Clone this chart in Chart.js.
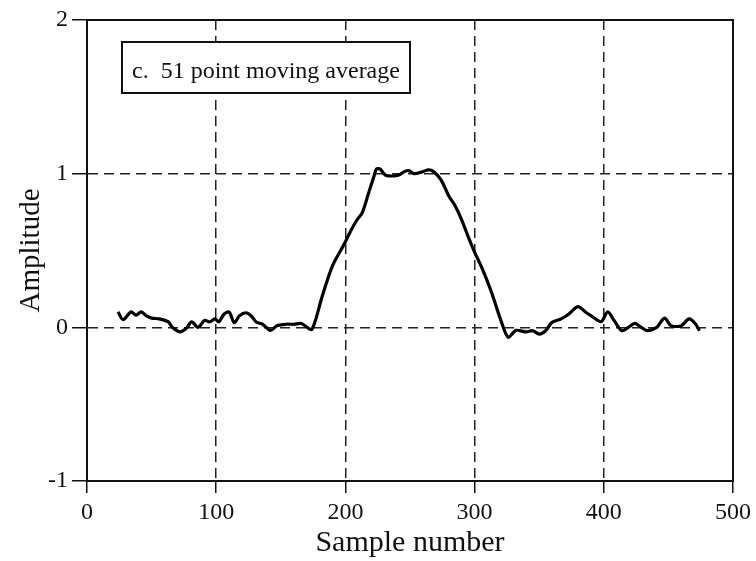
<!DOCTYPE html>
<html>
<head>
<meta charset="utf-8">
<script src="https://cdn.jsdelivr.net/npm/chart.js@4"></script>
<style>
  body { margin: 0; background: #fff; }
  #grafico { width: 756px; height: 561px; }
</style>
</head>
<body>
<div id="grafico"><canvas id="graficoSinal"></canvas></div>
<script>
// valores
const amostras = [
  24, 28, 34, 38, 42, 46, 50, 56, 63, 66, 72, 77, 81, 86, 91, 95, 99, 102,
  106, 110, 114, 118, 123, 127, 131, 136, 142, 147, 154, 160, 166, 172, 174,
  177, 182, 190, 199, 204, 209, 213, 218, 222, 224, 227, 231, 241, 246, 249,
  253, 259, 264, 268, 274, 280, 285, 290, 295, 300, 306, 313, 321, 326, 332,
  340, 345, 350, 355, 360, 367, 373, 380, 386, 392, 398, 403, 408, 414, 419,
  424, 429, 434, 441, 447, 452, 460, 466, 471, 474,
];
const amplitudes = [
  0.1, 0.05, 0.1, 0.08, 0.1, 0.075, 0.06, 0.055, 0.035, 0.0, -0.03, -0.005,
  0.035, 0.0, 0.045, 0.035, 0.055, 0.035, 0.085, 0.1, 0.03, 0.075, 0.095,
  0.075, 0.035, 0.02, -0.02, 0.01, 0.02, 0.02, 0.025, -0.01, -0.015, 0.05,
  0.2, 0.4, 0.54, 0.625, 0.7, 0.745, 0.875, 0.98, 1.03, 1.03, 0.99, 0.99,
  1.015, 1.02, 1.0, 1.01, 1.025, 1.015, 0.96, 0.855, 0.79, 0.7, 0.59, 0.49,
  0.38, 0.23, 0.03, -0.065, -0.02, -0.03, -0.022, -0.044, -0.022, 0.033,
  0.055, 0.087, 0.135, 0.098, 0.065, 0.037, 0.1, 0.044, -0.022, 0.0, 0.026,
  0.0, -0.022, 0.0, 0.06, 0.011, 0.011, 0.055, 0.022, -0.022,
];
const ticksX = [0, 100, 200, 300, 400, 500];
const ticksY = [-1, 0, 1, 2];
const rotulo = "c.  51 point moving average";

const fonte = "'Liberation Serif', 'Times New Roman', serif";

let pontos = [];
for (let i = 0; i < amostras.length; i++) {
  pontos.push({ x: amostras[i], y: amplitudes[i] });
}

// moldura em volta da area e caixa do rotulo
const molduraPlugin = {
  id: "moldura",
  afterDraw(chart) {
    const { ctx, chartArea } = chart;
    ctx.save();
    ctx.strokeStyle = "#111";
    ctx.lineWidth = 2;
    ctx.strokeRect(
      chartArea.left,
      chartArea.top,
      chartArea.right - chartArea.left,
      chartArea.bottom - chartArea.top
    );

    let bx = chartArea.left + 35;
    let by = chartArea.top + 22;
    ctx.fillStyle = "#fff";
    ctx.fillRect(bx, by, 288, 51);
    ctx.strokeRect(bx, by, 288, 51);
    ctx.fillStyle = "#111";
    ctx.font = "24px " + fonte;
    ctx.textBaseline = "alphabetic";
    ctx.fillText(rotulo, bx + 10, by + 36);
    ctx.restore();
  },
};

const ctx = document.getElementById("graficoSinal").getContext("2d");

new Chart(ctx, {
  type: "line",
  data: {
    datasets: [
      {
        data: pontos,
        borderColor: "#000",
        borderWidth: 3.2,
        pointRadius: 0,
        tension: 0.3,
        fill: false,
      },
    ],
  },
  options: {
    responsive: true,
    maintainAspectRatio: false,
    animation: false,
    layout: { padding: { top: 20, right: 23, left: 0, bottom: 0 } },
    plugins: {
      legend: { display: false },
      tooltip: { enabled: false },
    },
    scales: {
      x: {
        type: "linear",
        min: 0,
        max: 500,
        afterBuildTicks: (s) => {
          s.ticks = ticksX.map((v) => ({ value: v }));
        },
        afterFit: (s) => {
          s.height = 80;
        },
        grid: {
          color: "#222",
          lineWidth: 1.5,
          drawTicks: true,
          tickLength: 12,
          tickColor: "#111",
          tickWidth: 1.5,
          tickBorderDash: [],
        },
        border: { display: true, color: "#111", width: 2, dash: [10, 6] },
        ticks: {
          color: "#111",
          padding: 5,
          maxRotation: 0,
          font: { family: fonte, size: 24 },
        },
        title: {
          display: true,
          text: "Sample number",
          color: "#111",
          padding: { top: 0, bottom: 0 },
          font: { family: fonte, size: 30 },
        },
      },
      y: {
        min: -1,
        max: 2,
        afterBuildTicks: (s) => {
          s.ticks = ticksY.map((v) => ({ value: v }));
        },
        afterFit: (s) => {
          s.width = 87;
        },
        grid: {
          color: "#222",
          lineWidth: 1.5,
          drawTicks: true,
          tickLength: 15,
          tickColor: "#111",
          tickWidth: 1.5,
          tickBorderDash: [],
        },
        border: { display: true, color: "#111", width: 2, dash: [10, 6] },
        ticks: {
          color: "#111",
          padding: 4,
          font: { family: fonte, size: 24 },
        },
        title: {
          display: true,
          text: "Amplitude",
          color: "#111",
          padding: { top: 14, bottom: 0 },
          font: { family: fonte, size: 29 },
        },
      },
    },
  },
  plugins: [molduraPlugin],
});
</script>
</body>
</html>
